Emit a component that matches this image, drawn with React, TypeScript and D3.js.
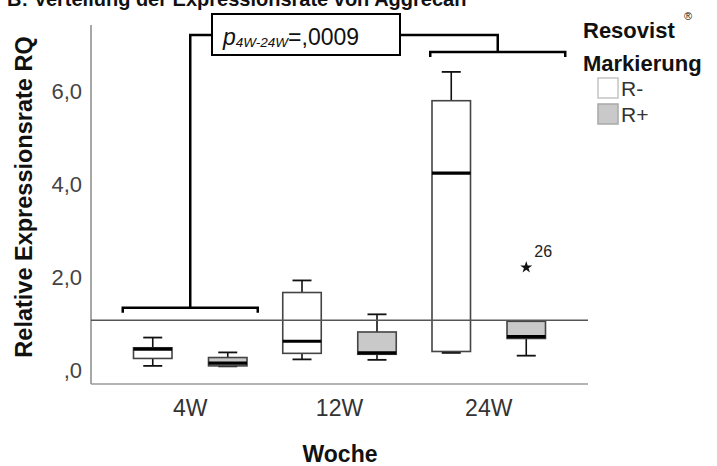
import React from 'react';
import * as d3 from 'd3';

// Woche categories and Resovist labelling groups
const weeks = ['4W', '12W', '24W'];
const groups = ['R-', 'R+'];

// Box-plot statistics for R- (unlabelled)
const whiskerLowRMinus = [0.10, 0.24, 0.38];
const q1RMinus = [0.26, 0.37, 0.41];
const medianRMinus = [0.46, 0.63, 4.25];
const q3RMinus = [0.49, 1.68, 5.81];
const whiskerHighRMinus = [0.71, 1.94, 6.43];

// Box-plot statistics for R+ (Resovist labelled)
const whiskerLowRPlus = [0.09, 0.23, 0.32];
const q1RPlus = [0.10, 0.35, 0.69];
const medianRPlus = [0.16, 0.38, 0.73];
const q3RPlus = [0.28, 0.83, 1.06];
const whiskerHighRPlus = [0.39, 1.21, 1.06];

// Extreme value (case 26) in 24W / R+
const outlierWeeks = ['24W'];
const outlierGroups = ['R+'];
const outlierValues = [2.22];
const outlierIds = ['26'];

const yTickValues = [0, 2, 4, 6];
const yTickLabels = [',0', '2,0', '4,0', '6,0'];
const referenceValue = 1.08;

const FONT = '"Liberation Sans", Arial, Helvetica, sans-serif';

type Box = { week: string; group: string; low: number; q1: number; med: number; q3: number; high: number };

const boxes: Box[] = [];
weeks.forEach((w, i) => {
  boxes.push({ week: w, group: 'R-', low: whiskerLowRMinus[i], q1: q1RMinus[i], med: medianRMinus[i], q3: q3RMinus[i], high: whiskerHighRMinus[i] });
  boxes.push({ week: w, group: 'R+', low: whiskerLowRPlus[i], q1: q1RPlus[i], med: medianRPlus[i], q3: q3RPlus[i], high: whiskerHighRPlus[i] });
});

export default function App() {
  const width = 717;
  const height = 466;
  const plotLeft = 91;
  const plotRight = 588;
  const plotTop = 25;
  const plotBottom = 384;

  const y = d3.scaleLinear().domain([-0.29, 7.44]).range([plotBottom, plotTop]);
  const x = d3.scalePoint<string>().domain(weeks).range([plotLeft, plotRight]).padding(0.665);
  const sub = d3.scalePoint<string>().domain(groups).range([-37.5, 37.5]);
  const boxW = 38.5;
  const capW = 19;
  const fill = d3.scaleOrdinal<string, string>().domain(groups).range(['#ffffff', '#c9c9c9']);

  const star = d3.symbol().type(d3.symbolStar).size(45)();

  // significance bracket geometry
  const leftBracketY = y(1.35);
  const leftCx = x('4W')!;
  const rightBracketY = y(6.86);
  const rightCx = x('24W')! + 9;
  const topY = 35;
  const pBox = { x0: 212, x1: 400, y0: 14, y1: 55 };

  return (
    <svg width={width} height={height} style={{ position: 'absolute', left: 0, top: 0, background: '#fff' }} fontFamily={FONT}>
      {/* title, partially cropped at the top */}
      <text x={7} y={6} fontSize={20} fontWeight="bold" fill="#111">B: Verteilung der Expressionsrate von Aggrecan</text>

      {/* axes */}
      <line x1={plotLeft} x2={plotLeft} y1={plotTop} y2={plotBottom} stroke="#8a8a8a" strokeWidth={1.5} />
      <line x1={plotLeft} x2={plotRight} y1={plotBottom} y2={plotBottom} stroke="#9a9a9a" strokeWidth={1.5} />

      {yTickValues.map((v, i) => (
        <text key={v} x={82} y={y(v)} fontSize={22} fill="#444" textAnchor="end" dominantBaseline="central">{yTickLabels[i]}</text>
      ))}
      {weeks.map((w) => (
        <text key={w} x={x(w)} y={416} fontSize={23} fill="#333" textAnchor="middle">{w}</text>
      ))}

      <text x={340} y={462} fontSize={23} fontWeight="bold" fill="#111" textAnchor="middle">Woche</text>
      <text transform={`translate(32,197) rotate(-90)`} fontSize={23.5} fontWeight="bold" fill="#111" textAnchor="middle">Relative Expressionsrate RQ</text>

      {/* boxes */}
      {boxes.map((b) => {
        const cx = x(b.week)! + sub(b.group)!;
        return (
          <g key={b.week + b.group}>
            <line x1={cx} x2={cx} y1={y(b.high)} y2={y(b.q3)} stroke="#111" strokeWidth={1.6} />
            <line x1={cx} x2={cx} y1={y(b.q1)} y2={y(b.low)} stroke="#111" strokeWidth={1.6} />
            <line x1={cx - capW / 2} x2={cx + capW / 2} y1={y(b.high)} y2={y(b.high)} stroke="#111" strokeWidth={1.8} />
            <line x1={cx - capW / 2} x2={cx + capW / 2} y1={y(b.low)} y2={y(b.low)} stroke="#111" strokeWidth={1.8} />
            <rect x={cx - boxW / 2} width={boxW} y={y(b.q3)} height={y(b.q1) - y(b.q3)} fill={fill(b.group)} stroke="#444" strokeWidth={1.6} />
            <line x1={cx - boxW / 2} x2={cx + boxW / 2} y1={y(b.med)} y2={y(b.med)} stroke="#000" strokeWidth={3.2} />
          </g>
        );
      })}

      {/* reference line */}
      <line x1={plotLeft} x2={plotRight} y1={y(referenceValue)} y2={y(referenceValue)} stroke="#555" strokeWidth={1.5} />

      {/* extreme values */}
      {outlierValues.map((v, i) => {
        const cx = x(outlierWeeks[i])! + sub(outlierGroups[i])!;
        return (
          <g key={outlierIds[i]}>
            <path d={star!} transform={`translate(${cx},${y(v)})`} fill="#111" />
            <text x={cx + 8} y={y(v) - 10} fontSize={16} fill="#222">{outlierIds[i]}</text>
          </g>
        );
      })}

      {/* significance brackets */}
      <g fill="none" stroke="#000" strokeWidth={2.5}>
        <path d={`M${leftCx - 67.5},${leftBracketY + 5}V${leftBracketY}H${leftCx + 67.5}V${leftBracketY + 5}`} />
        <path d={`M${leftCx},${leftBracketY}V${topY}H${pBox.x0}`} />
        <path d={`M${rightCx - 67.5},${rightBracketY + 5}V${rightBracketY}H${rightCx + 67.5}V${rightBracketY + 5}`} />
        <path d={`M${rightCx},${rightBracketY}V${topY}H${pBox.x1}`} />
        <rect x={pBox.x0} y={pBox.y0} width={pBox.x1 - pBox.x0} height={pBox.y1 - pBox.y0} fill="#fff" strokeWidth={2} />
      </g>
      <text x={223} y={45} fontSize={23} fill="#111">
        <tspan fontStyle="italic">p</tspan>
        <tspan fontStyle="italic" fontSize={13.5} dy={2}>4W-24W</tspan>
        <tspan dy={-2}>=,0009</tspan>
      </text>

      {/* legend */}
      <text x={583} y={38} fontSize={22} fontWeight="bold" fill="#111">Resovist</text>
      <text x={684} y={20} fontSize={11} fill="#111">®</text>
      <text x={583} y={71} fontSize={22} fontWeight="bold" fill="#111">Markierung</text>
      {groups.map((g, i) => (
        <g key={g}>
          <rect x={598} y={78 + i * 26} width={20} height={20} fill={fill(g)} stroke={i === 0 ? '#c4c4c4' : '#a8a8a8'} strokeWidth={1.5} />
          <text x={621} y={96 + i * 26} fontSize={21} fill="#333">{g}</text>
        </g>
      ))}
    </svg>
  );
}
